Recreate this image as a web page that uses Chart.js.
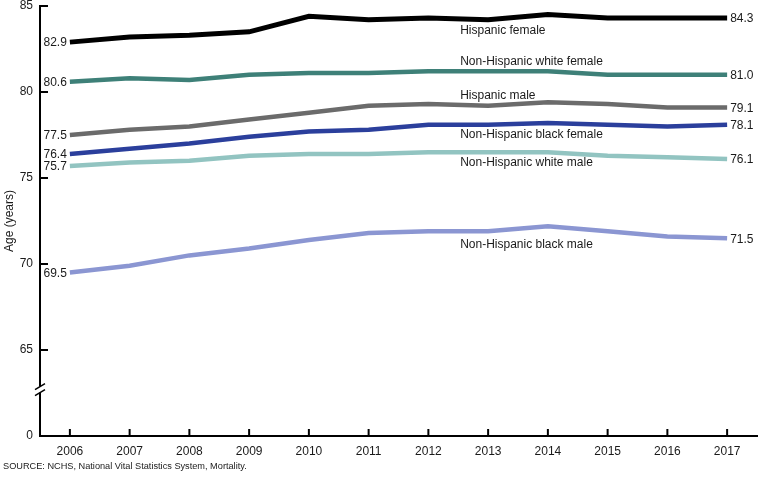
<!DOCTYPE html>
<html>
<head>
<meta charset="utf-8">
<script src="https://cdn.jsdelivr.net/npm/chart.js@4/dist/chart.umd.min.js"></script>
<style>
  html, body { margin: 0; padding: 0; background: #fff; }
  #wrap { width: 759px; height: 477px; position: relative; }
</style>
</head>
<body>
<div id="wrap"><canvas id="chart"></canvas></div>
<script>
// Life expectancy at birth by Hispanic origin, race and sex, 2006-2017

const years = ["2006", "2007", "2008", "2009", "2010", "2011", "2012", "2013", "2014", "2015", "2016", "2017"];

const seriesNames = [
  "Hispanic female",
  "Non-Hispanic white female",
  "Hispanic male",
  "Non-Hispanic black female",
  "Non-Hispanic white male",
  "Non-Hispanic black male",
];

const hispanicFemale   = [82.9, 83.2, 83.3, 83.5, 84.4, 84.2, 84.3, 84.2, 84.5, 84.3, 84.3, 84.3];
const nhWhiteFemale    = [80.6, 80.8, 80.7, 81.0, 81.1, 81.1, 81.2, 81.2, 81.2, 81.0, 81.0, 81.0];
const hispanicMale     = [77.5, 77.8, 78.0, 78.4, 78.8, 79.2, 79.3, 79.2, 79.4, 79.3, 79.1, 79.1];
const nhBlackFemale    = [76.4, 76.7, 77.0, 77.4, 77.7, 77.8, 78.1, 78.1, 78.2, 78.1, 78.0, 78.1];
const nhWhiteMale      = [75.7, 75.9, 76.0, 76.3, 76.4, 76.4, 76.5, 76.5, 76.5, 76.3, 76.2, 76.1];
const nhBlackMale      = [69.5, 69.9, 70.5, 70.9, 71.4, 71.8, 71.9, 71.9, 72.2, 71.9, 71.6, 71.5];

const yTicks = [60, 65, 70, 75, 80, 85];   // 60 is shown as "0" below the axis break

const seriesValues = [hispanicFemale, nhWhiteFemale, hispanicMale, nhBlackFemale, nhWhiteMale, nhBlackMale];
const seriesColors = ["#000000", "#3e8078", "#6b6b6b", "#2b3f9c", "#92c4c1", "#8b96d2"];
// offset (px) of the series name from the line, measured at 2013
const nameOffsets = [11, -10, -10, 10, 10, 13];

const FONT = "Arial, 'Liberation Sans', sans-serif";

const labelPlugin = {
  id: "labels",
  afterDatasetsDraw(chart) {
    const ctx = chart.ctx;
    const xs = chart.scales.x, ys = chart.scales.y;
    const area = chart.chartArea;
    ctx.save();
    ctx.fillStyle = "#1a1a1a";
    ctx.font = "12px " + FONT;
    ctx.textBaseline = "middle";

    seriesValues.forEach((vals, i) => {
      const last = vals.length - 1;
      ctx.textAlign = "right";
      ctx.fillText(vals[0].toFixed(1), xs.getPixelForValue(0) - 3, ys.getPixelForValue(vals[0]) + 1);
      ctx.textAlign = "left";
      ctx.fillText(vals[last].toFixed(1), xs.getPixelForValue(last) + 3, ys.getPixelForValue(vals[last]) + 1);
      ctx.fillText(seriesNames[i], xs.getPixelForValue(7) - 28, ys.getPixelForValue(vals[7]) + nameOffsets[i]);
    });

    // inward tick marks
    ctx.strokeStyle = "#000";
    ctx.lineWidth = 2;
    ctx.beginPath();
    yTicks.forEach(v => {
      const y = ys.getPixelForValue(v);
      ctx.moveTo(area.left, y);
      ctx.lineTo(area.left + 8, y);
    });
    years.forEach((_, i) => {
      const x = xs.getPixelForValue(i);
      ctx.moveTo(x, area.bottom);
      ctx.lineTo(x, area.bottom - 7);
    });
    ctx.stroke();

    // axis break
    const yb = ys.getPixelForValue(62.7);
    ctx.fillStyle = "#fff";
    ctx.fillRect(area.left - 3, yb - 3, 6, 6);
    ctx.lineWidth = 1.5;
    ctx.beginPath();
    ctx.moveTo(area.left - 5, yb);
    ctx.lineTo(area.left + 5, yb - 6);
    ctx.moveTo(area.left - 5, yb + 6);
    ctx.lineTo(area.left + 5, yb);
    ctx.stroke();

    // source note
    ctx.fillStyle = "#1a1a1a";
    ctx.font = "9.2px " + FONT;
    ctx.textAlign = "left";
    ctx.fillText("SOURCE: NCHS, National Vital Statistics System, Mortality.", 3, 466);
    ctx.restore();
  }
};

new Chart(document.getElementById("chart"), {
  type: "line",
  data: {
    labels: years,
    datasets: seriesValues.map((vals, i) => ({
      label: seriesNames[i],
      data: vals,
      borderColor: seriesColors[i],
      borderWidth: i === 0 ? 5 : 4.5,
      pointRadius: 0,
      tension: 0,
      fill: false,
    })),
  },
  options: {
    responsive: true,
    maintainAspectRatio: false,
    animation: false,
    layout: { autoPadding: false, padding: { top: 6, right: 2, left: 0, bottom: 0 } },
    plugins: {
      legend: { display: false },
      tooltip: { enabled: false },
    },
    scales: {
      x: {
        offset: true,
        afterFit(scale) {
          scale.height = 41;
          scale.paddingLeft = 0;
          scale.paddingRight = 0;
        },
        grid: { display: true, drawOnChartArea: false, drawTicks: false },
        border: { display: true, color: "#000", width: 2 },
        ticks: {
          color: "#1a1a1a",
          padding: 8,
          maxRotation: 0,
          font: { family: FONT, size: 12 },
        },
      },
      y: {
        min: 60,
        max: 85,
        afterFit(scale) {
          scale.width = 40;
          scale.paddingTop = 0;
          scale.paddingBottom = 0;
        },
        afterBuildTicks(scale) { scale.ticks = yTicks.map(v => ({ value: v })); },
        grid: { display: true, drawOnChartArea: false, drawTicks: false },
        border: { display: true, color: "#000", width: 2 },
        title: {
          display: true,
          text: "Age (years)",
          color: "#1a1a1a",
          padding: { top: 2, bottom: 0 },
          font: { family: FONT, size: 12 },
        },
        ticks: {
          color: "#1a1a1a",
          padding: 7,
          font: { family: FONT, size: 12 },
          callback: v => (v === 60 ? "0" : String(v)),
        },
      },
    },
  },
  plugins: [labelPlugin],
});
</script>
</body>
</html>
